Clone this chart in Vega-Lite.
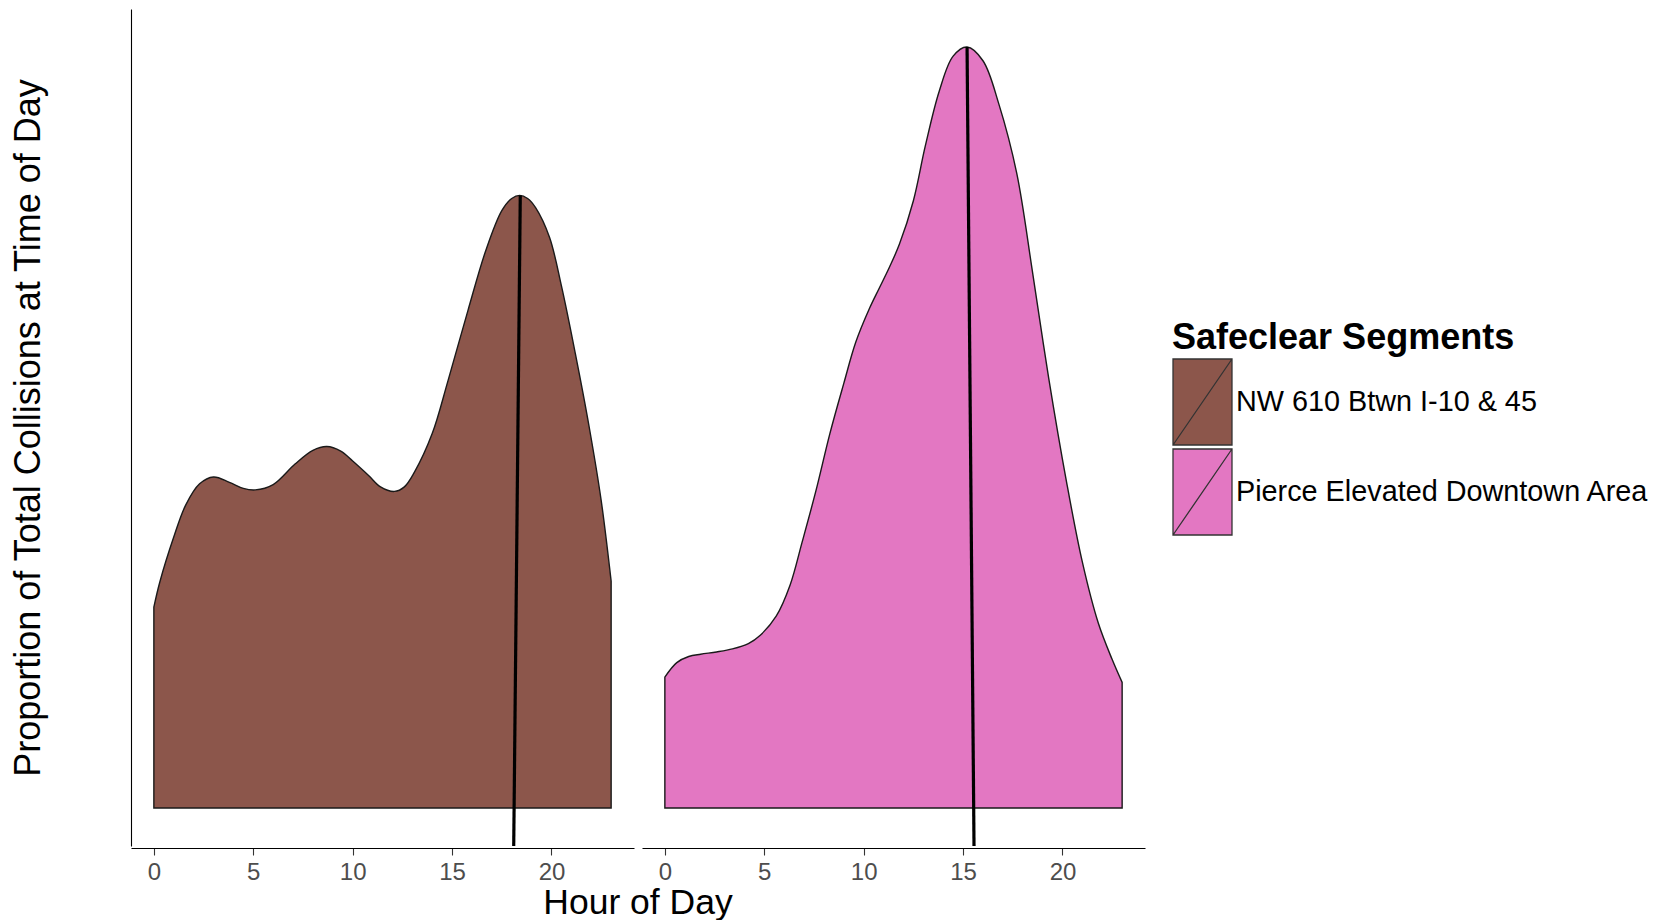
{
  "$schema": "https://vega.github.io/schema/vega-lite/v6.json",
  "background": "white",
  "padding": {"left": 10, "top": 9, "right": 5, "bottom": 0},
  "config": {
    "view": {"stroke": null},
    "font": "Liberation Sans",
    "axis": {"grid": false}
  },
  "data": {
    "values": [
      {"seg": "NW 610 Btwn I-10 & 45", "kind": "curve", "hour": 0, "dens": 0.264},
      {"seg": "NW 610 Btwn I-10 & 45", "kind": "curve", "hour": 0.3, "dens": 0.297},
      {"seg": "NW 610 Btwn I-10 & 45", "kind": "curve", "hour": 1.0, "dens": 0.356},
      {"seg": "NW 610 Btwn I-10 & 45", "kind": "curve", "hour": 1.6, "dens": 0.398},
      {"seg": "NW 610 Btwn I-10 & 45", "kind": "curve", "hour": 2.3, "dens": 0.426},
      {"seg": "NW 610 Btwn I-10 & 45", "kind": "curve", "hour": 3.0, "dens": 0.435},
      {"seg": "NW 610 Btwn I-10 & 45", "kind": "curve", "hour": 3.8, "dens": 0.428},
      {"seg": "NW 610 Btwn I-10 & 45", "kind": "curve", "hour": 4.5, "dens": 0.42},
      {"seg": "NW 610 Btwn I-10 & 45", "kind": "curve", "hour": 5.1, "dens": 0.418},
      {"seg": "NW 610 Btwn I-10 & 45", "kind": "curve", "hour": 6.0, "dens": 0.425},
      {"seg": "NW 610 Btwn I-10 & 45", "kind": "curve", "hour": 7.1, "dens": 0.452},
      {"seg": "NW 610 Btwn I-10 & 45", "kind": "curve", "hour": 8.0, "dens": 0.47},
      {"seg": "NW 610 Btwn I-10 & 45", "kind": "curve", "hour": 8.7, "dens": 0.475},
      {"seg": "NW 610 Btwn I-10 & 45", "kind": "curve", "hour": 9.4, "dens": 0.469},
      {"seg": "NW 610 Btwn I-10 & 45", "kind": "curve", "hour": 10.0, "dens": 0.456},
      {"seg": "NW 610 Btwn I-10 & 45", "kind": "curve", "hour": 10.8, "dens": 0.437},
      {"seg": "NW 610 Btwn I-10 & 45", "kind": "curve", "hour": 11.4, "dens": 0.422},
      {"seg": "NW 610 Btwn I-10 & 45", "kind": "curve", "hour": 12.1, "dens": 0.416},
      {"seg": "NW 610 Btwn I-10 & 45", "kind": "curve", "hour": 12.6, "dens": 0.422},
      {"seg": "NW 610 Btwn I-10 & 45", "kind": "curve", "hour": 13.1, "dens": 0.441},
      {"seg": "NW 610 Btwn I-10 & 45", "kind": "curve", "hour": 14.0, "dens": 0.492},
      {"seg": "NW 610 Btwn I-10 & 45", "kind": "curve", "hour": 14.8, "dens": 0.562},
      {"seg": "NW 610 Btwn I-10 & 45", "kind": "curve", "hour": 15.8, "dens": 0.654},
      {"seg": "NW 610 Btwn I-10 & 45", "kind": "curve", "hour": 16.7, "dens": 0.733},
      {"seg": "NW 610 Btwn I-10 & 45", "kind": "curve", "hour": 17.5, "dens": 0.785},
      {"seg": "NW 610 Btwn I-10 & 45", "kind": "curve", "hour": 18.0, "dens": 0.801},
      {"seg": "NW 610 Btwn I-10 & 45", "kind": "curve", "hour": 18.4, "dens": 0.805},
      {"seg": "NW 610 Btwn I-10 & 45", "kind": "curve", "hour": 18.8, "dens": 0.801},
      {"seg": "NW 610 Btwn I-10 & 45", "kind": "curve", "hour": 19.2, "dens": 0.789},
      {"seg": "NW 610 Btwn I-10 & 45", "kind": "curve", "hour": 19.9, "dens": 0.75},
      {"seg": "NW 610 Btwn I-10 & 45", "kind": "curve", "hour": 20.5, "dens": 0.686},
      {"seg": "NW 610 Btwn I-10 & 45", "kind": "curve", "hour": 21.2, "dens": 0.597},
      {"seg": "NW 610 Btwn I-10 & 45", "kind": "curve", "hour": 21.9, "dens": 0.5},
      {"seg": "NW 610 Btwn I-10 & 45", "kind": "curve", "hour": 22.5, "dens": 0.404},
      {"seg": "NW 610 Btwn I-10 & 45", "kind": "curve", "hour": 23.0, "dens": 0.298},
      {"seg": "Pierce Elevated Downtown Area", "kind": "curve", "hour": 0, "dens": 0.172},
      {"seg": "Pierce Elevated Downtown Area", "kind": "curve", "hour": 0.6, "dens": 0.191},
      {"seg": "Pierce Elevated Downtown Area", "kind": "curve", "hour": 1.2, "dens": 0.199},
      {"seg": "Pierce Elevated Downtown Area", "kind": "curve", "hour": 1.8, "dens": 0.202},
      {"seg": "Pierce Elevated Downtown Area", "kind": "curve", "hour": 2.6, "dens": 0.205},
      {"seg": "Pierce Elevated Downtown Area", "kind": "curve", "hour": 3.4, "dens": 0.209},
      {"seg": "Pierce Elevated Downtown Area", "kind": "curve", "hour": 4.2, "dens": 0.216},
      {"seg": "Pierce Elevated Downtown Area", "kind": "curve", "hour": 4.8, "dens": 0.227},
      {"seg": "Pierce Elevated Downtown Area", "kind": "curve", "hour": 5.6, "dens": 0.252},
      {"seg": "Pierce Elevated Downtown Area", "kind": "curve", "hour": 6.3, "dens": 0.293},
      {"seg": "Pierce Elevated Downtown Area", "kind": "curve", "hour": 6.9, "dens": 0.349},
      {"seg": "Pierce Elevated Downtown Area", "kind": "curve", "hour": 7.6, "dens": 0.417},
      {"seg": "Pierce Elevated Downtown Area", "kind": "curve", "hour": 8.3, "dens": 0.492},
      {"seg": "Pierce Elevated Downtown Area", "kind": "curve", "hour": 9.0, "dens": 0.558},
      {"seg": "Pierce Elevated Downtown Area", "kind": "curve", "hour": 9.6, "dens": 0.612},
      {"seg": "Pierce Elevated Downtown Area", "kind": "curve", "hour": 10.3, "dens": 0.657},
      {"seg": "Pierce Elevated Downtown Area", "kind": "curve", "hour": 10.8, "dens": 0.684},
      {"seg": "Pierce Elevated Downtown Area", "kind": "curve", "hour": 11.3, "dens": 0.711},
      {"seg": "Pierce Elevated Downtown Area", "kind": "curve", "hour": 11.8, "dens": 0.741},
      {"seg": "Pierce Elevated Downtown Area", "kind": "curve", "hour": 12.5, "dens": 0.798},
      {"seg": "Pierce Elevated Downtown Area", "kind": "curve", "hour": 13.1, "dens": 0.87},
      {"seg": "Pierce Elevated Downtown Area", "kind": "curve", "hour": 13.8, "dens": 0.942},
      {"seg": "Pierce Elevated Downtown Area", "kind": "curve", "hour": 14.5, "dens": 0.988},
      {"seg": "Pierce Elevated Downtown Area", "kind": "curve", "hour": 15.2, "dens": 1.0},
      {"seg": "Pierce Elevated Downtown Area", "kind": "curve", "hour": 16.0, "dens": 0.982},
      {"seg": "Pierce Elevated Downtown Area", "kind": "curve", "hour": 16.8, "dens": 0.925},
      {"seg": "Pierce Elevated Downtown Area", "kind": "curve", "hour": 17.7, "dens": 0.834},
      {"seg": "Pierce Elevated Downtown Area", "kind": "curve", "hour": 18.5, "dens": 0.703},
      {"seg": "Pierce Elevated Downtown Area", "kind": "curve", "hour": 19.3, "dens": 0.566},
      {"seg": "Pierce Elevated Downtown Area", "kind": "curve", "hour": 20.2, "dens": 0.429},
      {"seg": "Pierce Elevated Downtown Area", "kind": "curve", "hour": 21.0, "dens": 0.323},
      {"seg": "Pierce Elevated Downtown Area", "kind": "curve", "hour": 21.8, "dens": 0.243},
      {"seg": "Pierce Elevated Downtown Area", "kind": "curve", "hour": 22.5, "dens": 0.195},
      {"seg": "Pierce Elevated Downtown Area", "kind": "curve", "hour": 23.0, "dens": 0.165},
      {"seg": "NW 610 Btwn I-10 & 45", "kind": "rule", "hour": 18.1, "dens": -0.05, "hour2": 18.43, "dens2": 0.805},
      {"seg": "Pierce Elevated Downtown Area", "kind": "rule", "hour": 15.55, "dens": -0.05, "hour2": 15.2, "dens2": 1.0}
    ]
  },
  "facet": {
    "column": {
      "field": "seg", "type": "nominal",
      "header": {
        "title": "Hour of Day", "titleOrient": "bottom", "titleFontSize": 35.5, "titleFontWeight": "normal",
        "titleColor": "#000", "titlePadding": -8, "titleFont": "Liberation Sans",
        "labels": false, "labelPadding": 0
      }
    }
  },
  "spacing": {"column": 8},
  "spec": {
    "width": 503,
    "height": 837,
    "layer": [
      {
        "transform": [{"filter": "datum.kind === 'curve'"}],
        "mark": {"type": "area", "interpolate": "catmull-rom", "stroke": "#1a1a1a", "strokeWidth": 1.4, "opacity": 1},
        "encoding": {
          "x": {
            "field": "hour", "type": "quantitative",
            "scale": {"domain": [-1.15, 24.15], "nice": false, "zero": false},
            "axis": {
              "title": null, "values": [0, 5, 10, 15, 20],
              "domainColor": "#000", "domainWidth": 1.1,
              "tickColor": "#333", "tickSize": 7, "tickWidth": 1.1,
              "labelFontSize": 24, "labelColor": "#4d4d4d", "labelPadding": 5
            }
          },
          "y": {
            "field": "dens", "type": "quantitative",
            "scale": {"domain": [-0.05, 1.05], "nice": false, "zero": false},
            "axis": {
              "title": "Proportion of Total Collisions at Time of Day",
              "ticks": false, "labels": false,
              "domainColor": "#000", "domainWidth": 1.1,
              "titleFontSize": 36, "titleFontWeight": "normal", "titleColor": "#000", "titlePadding": 84
            }
          },
          "y2": {"datum": 0},
          "color": {
            "field": "seg", "type": "nominal",
            "scale": {"domain": ["NW 610 Btwn I-10 & 45", "Pierce Elevated Downtown Area"], "range": ["#8c564b", "#e377c2"]},
            "legend": {
              "title": "Safeclear Segments",
              "orient": "none", "legendX": 1041, "legendY": 312,
              "titleFontSize": 36, "titleFontWeight": "bold", "titleColor": "#000", "titlePadding": 1, "titleLimit": 800,
              "labelFontSize": 28.8, "labelColor": "#000", "labelLimit": 800, "labelOffset": -24,
              "symbolType": "M-1,-1H0.372V1H-1Z M-1,1L0.372,-1",
              "symbolSize": 7396, "symbolStrokeColor": "#333", "symbolStrokeWidth": 1.3, "symbolOpacity": 1,
              "rowPadding": -9, "padding": 0
            }
          }
        }
      },
      {
        "transform": [{"filter": "datum.kind === 'rule'"}],
        "mark": {"type": "rule", "color": "#000", "strokeWidth": 3.2},
        "encoding": {
          "x": {"field": "hour", "type": "quantitative"},
          "x2": {"field": "hour2"},
          "y": {"field": "dens", "type": "quantitative"},
          "y2": {"field": "dens2"}
        }
      }
    ]
  }
}
